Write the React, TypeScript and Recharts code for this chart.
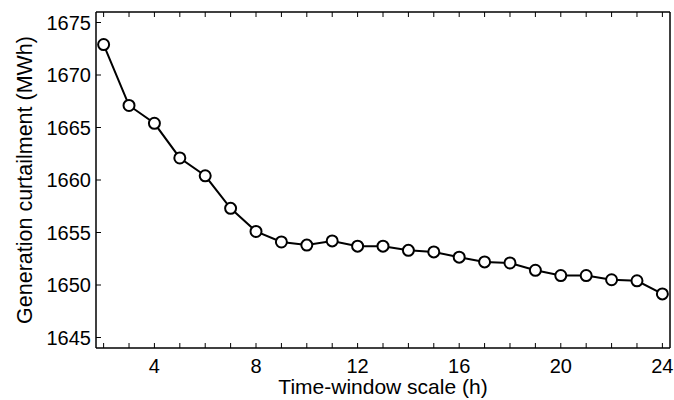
import { LineChart, Line, XAxis, YAxis } from "recharts";

// time-window scale (h) vs generation curtailment (MWh)
const hours = [2, 3, 4, 5, 6, 7, 8, 9, 10, 11, 12, 13, 14, 15, 16, 17, 18, 19, 20, 21, 22, 23, 24];
const curtailment = [
  1672.9, 1667.1, 1665.4, 1662.1, 1660.4, 1657.3, 1655.1, 1654.1, 1653.8, 1654.2, 1653.7, 1653.7,
  1653.3, 1653.15, 1652.65, 1652.2, 1652.1, 1651.4, 1650.9, 1650.9, 1650.5, 1650.4, 1649.15,
];
const xTicks = hours;
const yTicks = [1645, 1650, 1655, 1660, 1665, 1670, 1675];

const data = hours.map((h, i) => ({ h, v: curtailment[i] }));

const FONT = "'Liberation Sans', Arial, sans-serif";

function BottomTick(props: any) {
  const { x, y, payload } = props;
  const v = payload.value;
  return (
    <g>
      <line x1={x} x2={x} y1={y} y2={y - 5} stroke="#000" strokeWidth={1} />
      {v % 4 === 0 && (
        <text x={x} y={y + 25} textAnchor="middle" fontSize={20} fontFamily={FONT} fill="#000">
          {v}
        </text>
      )}
    </g>
  );
}

function TopTick(props: any) {
  const { x, y } = props;
  return <line x1={x} x2={x} y1={y} y2={y + 5} stroke="#000" strokeWidth={1} />;
}

function LeftTick(props: any) {
  const { x, y, payload } = props;
  return (
    <g>
      <line x1={x} x2={x + 5} y1={y} y2={y} stroke="#000" strokeWidth={1} />
      <text x={x - 5} y={y + 7} textAnchor="end" fontSize={20} fontFamily={FONT} fill="#000">
        {payload.value}
      </text>
    </g>
  );
}

function RightTick(props: any) {
  const { x, y } = props;
  return <line x1={x} x2={x - 5} y1={y} y2={y} stroke="#000" strokeWidth={1} />;
}

export default function App() {
  return (
    <div style={{ position: "absolute", left: 0, top: 0, width: 674, height: 400, background: "#fff" }}>
      <LineChart width={674} height={400} data={data} margin={{ top: 11, right: 3, bottom: 0, left: 0 }}>
        <XAxis
          dataKey="h"
          type="number"
          domain={[1.7, 24.3]}
          ticks={xTicks}
          interval={0}
          tickSize={0}
          tickMargin={0}
          tickLine={false}
          tick={<BottomTick />}
          axisLine={{ stroke: "#000", strokeWidth: 1.5 }}
          height={52}
          label={{
            value: "Time-window scale (h)",
            position: "insideBottom",
            offset: 6,
            fontSize: 21,
            fontFamily: FONT,
            fill: "#000",
          }}
        />
        <XAxis
          xAxisId="top"
          orientation="top"
          dataKey="h"
          type="number"
          domain={[1.7, 24.3]}
          ticks={xTicks}
          interval={0}
          tickSize={0}
          tickMargin={0}
          tickLine={false}
          tick={<TopTick />}
          axisLine={{ stroke: "#000", strokeWidth: 1.5 }}
          height={1}
        />
        <YAxis
          type="number"
          domain={[1644, 1676]}
          ticks={yTicks}
          interval={0}
          tickSize={0}
          tickMargin={0}
          tickLine={false}
          tick={<LeftTick />}
          axisLine={{ stroke: "#000", strokeWidth: 1.5 }}
          width={96}
          label={{
            value: "Generation curtailment (MWh)",
            angle: -90,
            position: "insideLeft",
            offset: 24,
            style: { textAnchor: "middle" },
            fontSize: 21.5,
            fontFamily: FONT,
            fill: "#000",
          }}
        />
        <YAxis
          yAxisId="right"
          orientation="right"
          type="number"
          domain={[1644, 1676]}
          ticks={yTicks}
          interval={0}
          tickSize={0}
          tickMargin={0}
          tickLine={false}
          tick={<RightTick />}
          axisLine={{ stroke: "#000", strokeWidth: 1.5 }}
          width={1}
        />
        <Line
          dataKey="v"
          type="linear"
          stroke="#000"
          strokeWidth={2}
          dot={{ r: 5.5, fill: "#fff", stroke: "#000", strokeWidth: 2 }}
          isAnimationActive={false}
        />
      </LineChart>
    </div>
  );
}
